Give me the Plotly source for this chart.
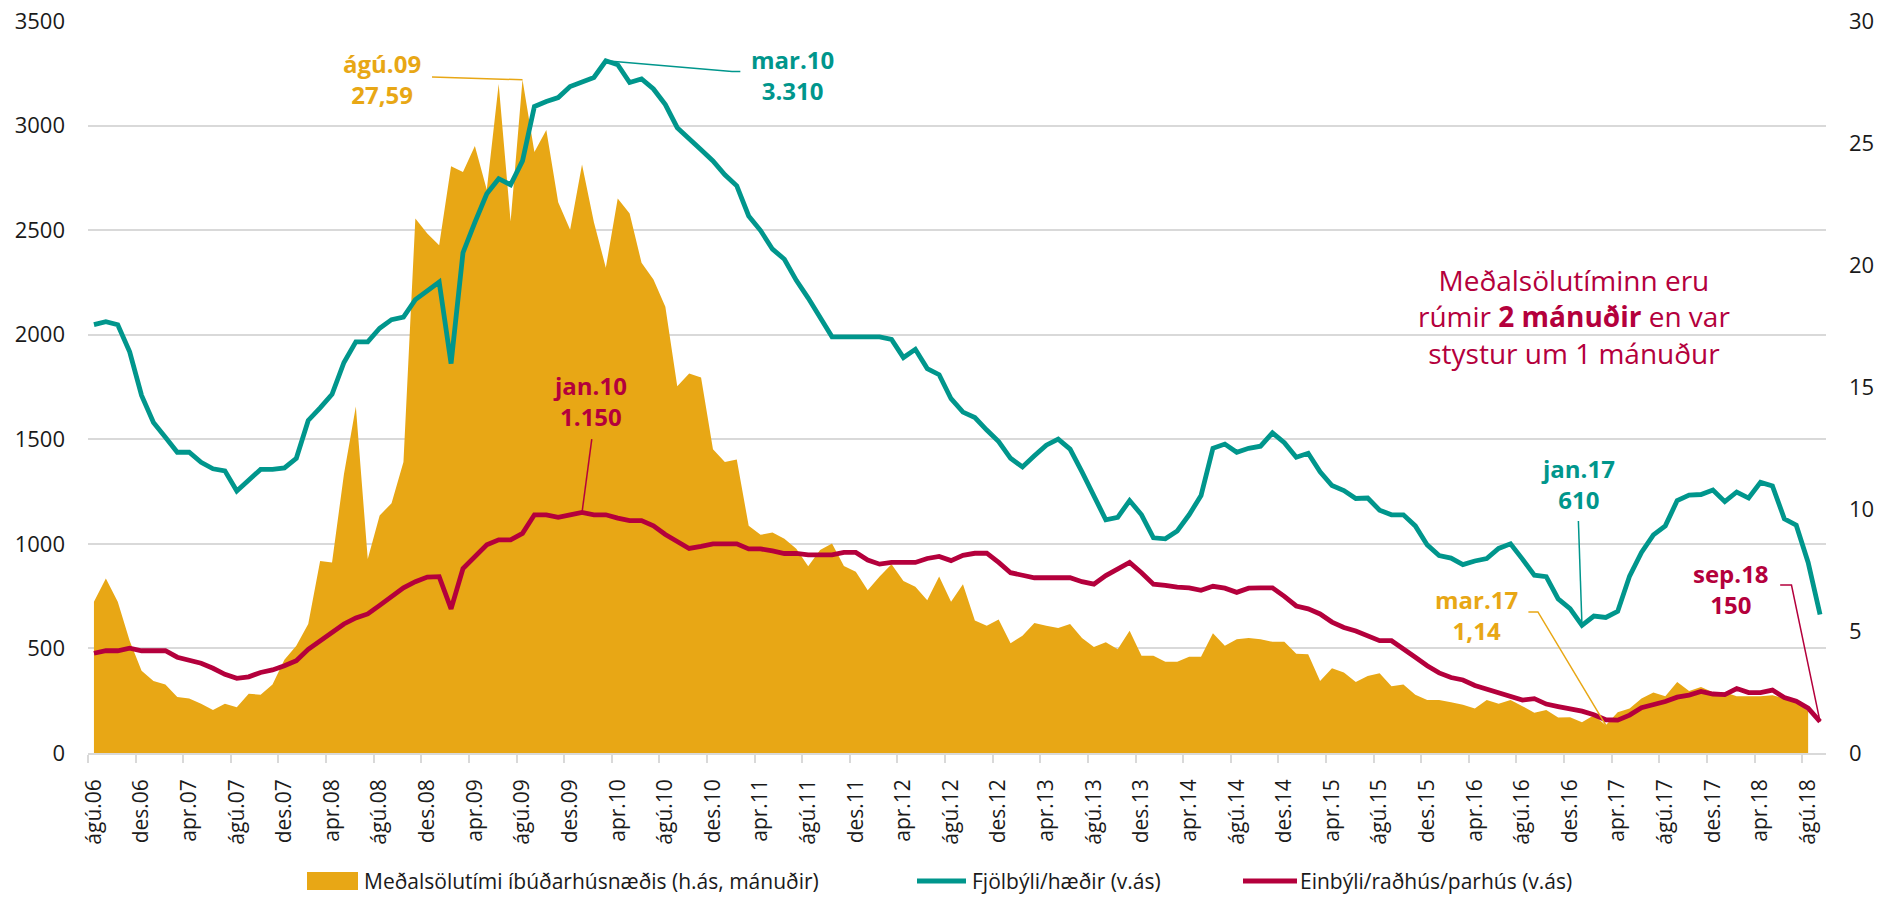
import plotly.graph_objects as go

# ---------------- data ----------------
month_names = ['jan', 'feb', 'mar', 'apr', 'maí', 'jún', 'júl', 'ágú', 'sep', 'okt', 'nóv', 'des']
all_months = [f"{month_names[m]}.{y % 100:02d}" for y in range(2006, 2019) for m in range(12)]
months = all_months[all_months.index('ágú.06'): all_months.index('sep.18') + 1]

tick_labels = ['ágú.06', 'des.06', 'apr.07', 'ágú.07', 'des.07', 'apr.08', 'ágú.08', 'des.08',
               'apr.09', 'ágú.09', 'des.09', 'apr.10', 'ágú.10', 'des.10', 'apr.11', 'ágú.11',
               'des.11', 'apr.12', 'ágú.12', 'des.12', 'apr.13', 'ágú.13', 'des.13', 'apr.14',
               'ágú.14', 'des.14', 'apr.15', 'ágú.15', 'des.15', 'apr.16', 'ágú.16', 'des.16',
               'apr.17', 'ágú.17', 'des.17', 'apr.18', 'ágú.18']

# Fjölbýli/hæðir (left axis), ágú.06 - sep.18
fjolbyli = [2048, 2062, 2048, 1918, 1710, 1580, 1510, 1438, 1438, 1390, 1359, 1349, 1253, 1301, 1356, 1356,
            1363, 1409, 1590, 1650, 1715, 1867, 1966, 1966, 2031, 2072, 2084, 2168, 2207, 2252, 1862, 2392,
            2537, 2674, 2746, 2717, 2831, 3091, 3115, 3134, 3187, 3211, 3230, 3310, 3291, 3206, 3223, 3175,
            3100, 2990, 2934, 2884, 2831, 2765, 2712, 2568, 2498, 2409, 2361, 2260, 2175, 2079, 1990, 1990,
            1990, 1990, 1990, 1978, 1891, 1930, 1838, 1809, 1694, 1630, 1604, 1544, 1489, 1409, 1368, 1421,
            1472, 1501, 1453, 1344, 1231, 1115, 1127, 1207, 1139, 1029, 1024, 1062, 1139, 1231, 1457, 1477,
            1438, 1457, 1467, 1531, 1484, 1414, 1433, 1344, 1279, 1255, 1217, 1219, 1161, 1139, 1139, 1086,
            995, 944, 932, 901, 918, 930, 978, 1000, 927, 850, 843, 737, 690, 610, 655, 648,
            677, 846, 959, 1043, 1086, 1207, 1233, 1236, 1257, 1202, 1248, 1219, 1294, 1277, 1120, 1089,
            911, 662]

# Einbýli/raðhús/parhús (left axis), ágú.06 - sep.18
einbyli = [477, 489, 489, 501, 489, 489, 489, 458, 441, 429, 405, 376, 357, 364, 385, 397,
           417, 441, 496, 537, 581, 617, 646, 665, 706, 747, 790, 819, 841, 843, 689, 882,
           935, 995, 1019, 1019, 1050, 1139, 1139, 1127, 1139, 1150, 1139, 1139, 1123, 1111, 1111, 1086,
           1045, 1010, 978, 988, 1000, 1000, 1000, 976, 976, 966, 954, 954, 947, 947, 947, 959,
           959, 923, 903, 911, 911, 911, 930, 940, 920, 945, 955, 956, 911, 862, 850, 838,
           838, 838, 838, 819, 807, 848, 879, 911, 862, 807, 802, 793, 790, 778, 797, 788,
           768, 788, 790, 790, 749, 703, 689, 665, 626, 600, 583, 561, 537, 537, 494, 458,
           417, 383, 361, 349, 323, 304, 291, 272, 253, 260, 234, 222, 212, 200, 183, 159,
           157, 181, 217, 229, 246, 267, 277, 294, 282, 279, 308, 289, 289, 301, 265, 248,
           214, 150]

# Meðalsölutími íbúðarhúsnæðis, months (right axis), ágú.06 - ágú.18
solutimi = [6.20, 7.15, 6.20, 4.60, 3.37, 2.95, 2.81, 2.29, 2.23, 2.02, 1.76, 2.02, 1.88, 2.43, 2.39, 2.81,
            3.82, 4.40, 5.29, 7.87, 7.81, 11.42, 14.20, 7.95, 9.73, 10.24, 11.93, 21.91, 21.29, 20.81, 24.05, 23.81,
            24.88, 23.08, 27.42, 21.78, 27.59, 24.63, 25.53, 22.57, 21.44, 24.12, 21.75, 19.89, 22.73, 22.11, 20.09, 19.41,
            18.29, 15.03, 15.55, 15.39, 12.45, 11.93, 12.03, 9.31, 8.94, 9.04, 8.78, 8.37, 7.65, 8.32, 8.59, 7.66,
            7.43, 6.67, 7.23, 7.74, 7.05, 6.81, 6.26, 7.23, 6.20, 6.92, 5.43, 5.22, 5.47, 4.50, 4.81, 5.33,
            5.22, 5.12, 5.29, 4.71, 4.34, 4.54, 4.25, 5.01, 3.99, 3.99, 3.74, 3.74, 3.94, 3.94, 4.91, 4.40,
            4.66, 4.71, 4.66, 4.56, 4.56, 4.07, 4.05, 2.95, 3.47, 3.30, 2.91, 3.16, 3.27, 2.74, 2.81, 2.39,
            2.17, 2.17, 2.08, 1.98, 1.82, 2.17, 2.02, 2.17, 1.92, 1.65, 1.76, 1.45, 1.47, 1.26, 1.55, 1.14,
            1.67, 1.82, 2.23, 2.48, 2.33, 2.91, 2.54, 2.71, 2.49, 2.49, 2.33, 2.33, 2.33, 2.37, 2.23, 2.13,
            1.71]

legend_names = ['Meðalsölutími íbúðarhúsnæðis (h.ás, mánuðir)', 'Fjölbýli/hæðir (v.ás)',
                'Einbýli/raðhús/parhús (v.ás)']

# ---------------- style ----------------
ORANGE = '#E8A715'
TEAL = '#00968C'
CRIMSON = '#B4003C'
GRID = '#D9D9D9'
FONT = 'Open Sans'
W, H = 1900, 898
ML, MR, MT, MB = 88, 74, 21, 145

x_lines = list(range(len(fjolbyli)))
x_area = list(range(len(solutimi)))
tick_idx = [months.index(t) for t in tick_labels]

fig = go.Figure()
# area on the main (right-hand) axis so it sits beneath the lines
fig.add_trace(go.Scatter(x=x_area, y=solutimi, yaxis='y', mode='lines', fill='tozeroy',
                         fillcolor=ORANGE, line=dict(width=0, color=ORANGE), name=legend_names[0],
                         showlegend=False))
fig.add_trace(go.Scatter(x=x_lines, y=fjolbyli, yaxis='y2', mode='lines',
                         line=dict(width=4.8, color=TEAL), name=legend_names[1], showlegend=False))
fig.add_trace(go.Scatter(x=x_lines, y=einbyli, yaxis='y2', mode='lines',
                         line=dict(width=4.8, color=CRIMSON), name=legend_names[2], showlegend=False))

fig.update_layout(
    width=W, height=H, margin=dict(l=ML, r=MR, t=MT, b=MB),
    paper_bgcolor='white', plot_bgcolor='white',
    font=dict(family=FONT, size=22, color='#1a1a1a'),
    xaxis=dict(range=[-0.5, len(fjolbyli) - 0.5], tickmode='array', tickvals=tick_idx,
               ticktext=tick_labels, tickangle=-90, ticks='outside', ticklen=8,
               tickcolor='rgba(0,0,0,0)', ticklabelstandoff=8, showgrid=False, zeroline=False,
               showline=True, linecolor=GRID, linewidth=1.5, automargin=False,
               tickfont=dict(size=21),
               minor=dict(tickmode='array', tickvals=[i - 0.5 for i in tick_idx], ticks='outside',
                          ticklen=8, tickcolor=GRID, tickwidth=1.5, showgrid=False)),
    yaxis=dict(range=[0, 30], dtick=5, side='right', showgrid=False, ticklabeloverflow='allow',
               zeroline=False, ticks='', ticklabelstandoff=22, automargin=False),
    yaxis2=dict(range=[0, 3500], dtick=500, overlaying='y', side='left', showgrid=True,
                gridcolor=GRID, gridwidth=1.5, zeroline=False, ticks='', ticklabelstandoff=22,
                ticklabeloverflow='allow', automargin=False),
)

# ---------------- annotations with leader lines ----------------
def lab(text, x, y, color, yref='y2'):
    fig.add_annotation(text=text, x=x, y=y, xref='x', yref=yref, showarrow=False,
                       font=dict(size=24, color=color), align='center',
                       xanchor='center', yanchor='middle')

def leader(points, color, yref='y2'):
    path = 'M ' + ' L '.join(f'{px},{py}' for px, py in points)
    fig.add_shape(type='path', path=path, xref='x', yref=yref,
                  line=dict(color=color, width=1.5))

i = months.index('ágú.09')
lab('<b>ágú.09<br>27,59</b>', 24.2, 3225, ORANGE)
leader([(28.4, 27.7), (i, solutimi[i])], ORANGE, 'y')

i = months.index('mar.10')
lab('<b>mar.10<br>3.310</b>', 58.7, 3244, TEAL)
leader([(i, fjolbyli[i]), (53.6, 3259), (54.3, 3259)], TEAL)

i = months.index('jan.10')
lab('<b>jan.10<br>1.150</b>', 41.65, 1681, CRIMSON)
leader([(41.82, 1501), (i, einbyli[i])], CRIMSON)

i = months.index('jan.17')
lab('<b>jan.17<br>610</b>', 124.68, 1286, TEAL)
leader([(124.7, 1109), (i, fjolbyli[i])], TEAL)

i = months.index('mar.17')
lab('<b>mar.17<br>1,14</b>', 116.1, 662, ORANGE)
leader([(120.5, 5.78), (121.3, 5.78), (i, solutimi[i])], ORANGE, 'y')

i = months.index('sep.18')
lab('<b>sep.18<br>150</b>', 137.5, 786, CRIMSON)
leader([(141.65, 803), (142.6, 803), (i, einbyli[i])], CRIMSON)

fig.add_annotation(text='Meðalsölutíminn eru<br>rúmir <b>2 mánuðir</b> en var<br>stystur um 1 mánuður',
                   x=124.3, y=2089, xref='x', yref='y2', showarrow=False, align='center',
                   xanchor='center', yanchor='middle', font=dict(size=28, color=CRIMSON))

# ---------------- custom legend (pixel layout -> paper coords) ----------------
PW = W - ML - MR
PH = H - MT - MB
def px(xp):
    return (xp - ML) / PW
def py(yp):
    return (H - MB - yp) / PH

LY = 881
fig.add_shape(type='rect', xref='paper', yref='paper', x0=px(307), x1=px(358), y0=py(LY + 9), y1=py(LY - 9),
              fillcolor=ORANGE, line=dict(width=0))
fig.add_shape(type='line', xref='paper', yref='paper', x0=px(917), x1=px(966), y0=py(LY), y1=py(LY),
              line=dict(color=TEAL, width=5))
fig.add_shape(type='line', xref='paper', yref='paper', x0=px(1243), x1=px(1297), y0=py(LY), y1=py(LY),
              line=dict(color=CRIMSON, width=5))
for name, xp in zip(legend_names, [362, 970, 1298]):
    fig.add_annotation(text=name, x=px(xp), y=py(LY), xref='paper', yref='paper', showarrow=False,
                       xanchor='left', yanchor='middle', font=dict(size=21, color='#1a1a1a'))

# remove the default 8px page margin so the 1900x898 figure fills the window exactly
fig.write_html('out.html', config={'displayModeBar': False},
               post_script="document.body.style.margin='0';")
